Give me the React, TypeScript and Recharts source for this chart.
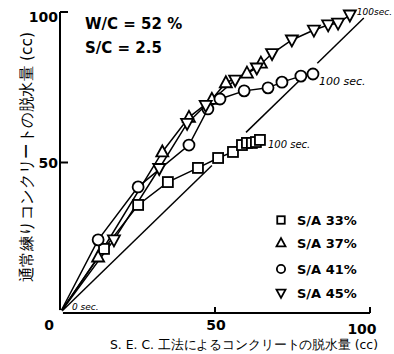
import React from "react";
import { LineChart, Line, XAxis, YAxis } from "recharts";

// points: [S.E.C. 脱水量, 通常練り 脱水量] in cc
const sa33 = [
  [0, 0], [14.2, 21.3], [25.2, 35.9], [34.8, 43.5], [44.5, 48.2], [51, 51.5],
  [55.8, 53.5], [58.7, 55.8], [60.3, 56.5], [61.9, 56.5], [63.2, 56.8], [64.5, 57.5],
];
const sa37 = [
  [0, 0], [12.3, 18.6], [33, 53.5], [41.6, 65], [49, 71], [53.5, 76.5],
  [60.3, 79.7], [64.8, 83],
];
const sa41 = [
  [0, 0], [12.3, 24.3], [25.2, 41.9], [41.6, 55.8], [47.7, 67.8], [51.6, 71.1],
  [59.4, 73.8], [67.1, 74.8], [71.6, 76.7], [77.7, 78.7], [81.6, 79.4],
];
const sa45 = [
  [0, 0], [17.4, 24.3], [32, 48], [41, 63], [47, 69], [56.5, 77.4], [63.5, 81.4],
  [68.4, 86.2], [74.8, 90.7], [81.9, 94], [86.5, 95.7], [89.7, 96.3], [93.5, 99],
];
// the 1:1 line, broken where the end labels sit
const equalSegments = [[0, 49], [60, 77], [83, 98]];

const xTicks = [0, 50, 100];
const yTicks = [0, 50, 100];

const legendItems = [
  { shape: "square", label: "S/A  33%" },
  { shape: "up", label: "S/A  37%" },
  { shape: "circle", label: "S/A  41%" },
  { shape: "down", label: "S/A  45%" },
];

const toRows = (pts: number[][]) => pts.map(([x, y]) => ({ x, y }));
const font = "'DejaVu Sans', sans-serif";

function marker(shape: string, cx: number, cy: number, s = 1, key?: string) {
  const sw = 1.8;
  if (shape === "square")
    return <rect key={key} x={cx - 5 * s} y={cy - 5 * s} width={10 * s} height={10 * s} fill="#fff" stroke="#000" strokeWidth={sw} />;
  if (shape === "circle")
    return <circle key={key} cx={cx} cy={cy} r={5.5 * s} fill="#fff" stroke="#000" strokeWidth={sw} />;
  if (shape === "up")
    return <polygon key={key} points={`${cx},${cy - 6.5 * s} ${cx - 6 * s},${cy + 4.5 * s} ${cx + 6 * s},${cy + 4.5 * s}`} fill="#fff" stroke="#000" strokeWidth={sw} />;
  return <polygon key={key} points={`${cx},${cy + 6.5 * s} ${cx - 6 * s},${cy - 4.5 * s} ${cx + 6 * s},${cy - 4.5 * s}`} fill="#fff" stroke="#000" strokeWidth={sw} />;
}

const dotFor = (shape: string) => (p: any) => {
  if (p.index === 0) return <g key={`o-${shape}`} />;
  return marker(shape, p.cx, p.cy, 1, `${shape}-${p.index}`);
};

const endLabel = (last: number, text: string, dx: number, dy: number, size: number) => (p: any) => {
  if (p.index !== last) return null;
  return (
    <text x={p.x + dx} y={p.y + dy} fontSize={size} fontFamily={font} fontStyle="italic" fill="#000">
      {text}
    </text>
  );
};

const XTick = ({ x, y, payload }: any) => {
  const v = payload.value;
  const dx = v === 0 ? -11 : v === 100 ? -8 : 1;
  const dy = v === 100 ? 21 : 17;
  return (
    <g>
      {v !== 0 && <line x1={x} y1={y} x2={x} y2={y - 6} stroke="#000" strokeWidth={2} />}
      <text x={x + dx} y={y + dy} textAnchor="middle" fontSize={14} fontWeight="bold" fontFamily={font} fill="#000">
        {v}
      </text>
    </g>
  );
};

const YTick = ({ x, y, payload }: any) => {
  const v = payload.value;
  if (v === 0) return <g />;
  return (
    <g>
      <line x1={x} y1={y} x2={x + 8} y2={y} stroke="#000" strokeWidth={2} />
      <text x={x - 2} y={y + (v === 100 ? 10 : 5)} textAnchor="end" fontSize={14} fontWeight="bold" fontFamily={font} fill="#000">
        {v}
      </text>
    </g>
  );
};

export default function App() {
  const series = [
    { data: sa33, shape: "square", label: endLabel(sa33.length - 1, "100 sec.", 8, 8, 10) },
    { data: sa37, shape: "up", label: undefined },
    { data: sa41, shape: "circle", label: endLabel(sa41.length - 1, "100 sec.", 6, 11, 11) },
    { data: sa45, shape: "down", label: endLabel(sa45.length - 1, "100sec.", 7, 0, 9) },
  ];
  return (
    <div style={{ position: "absolute", left: 0, top: 0, width: 394, height: 354, background: "#fff" }}>
      <LineChart width={394} height={354} margin={{ top: 12, right: 24, bottom: 11, left: 20 }}>
        <XAxis
          type="number"
          dataKey="x"
          domain={[0, 100]}
          ticks={xTicks}
          tickSize={0}
          tickMargin={0}
          tickLine={false}
          tick={<XTick />}
          axisLine={{ stroke: "#000", strokeWidth: 2 }}
          height={30}
          allowDuplicatedCategory={false}
        />
        <YAxis
          type="number"
          dataKey="y"
          domain={[0, 100]}
          ticks={yTicks}
          tickSize={0}
          tickMargin={0}
          tickLine={false}
          tick={<YTick />}
          axisLine={{ stroke: "#000", strokeWidth: 2 }}
          width={40}
        />
        {equalSegments.map(([a, b], i) => (
          <Line
            key={`eq-${i}`}
            data={toRows([[a, a], [b, b]])}
            dataKey="y"
            stroke="#000"
            strokeWidth={1.5}
            dot={false}
            isAnimationActive={false}
          />
        ))}
        {series.map((s) => (
          <Line
            key={s.shape}
            data={toRows(s.data)}
            dataKey="y"
            stroke="#000"
            strokeWidth={1.5}
            dot={dotFor(s.shape)}
            label={s.label}
            isAnimationActive={false}
          />
        ))}
        <Line
          data={toRows([[0, 0]])}
          dataKey="y"
          stroke="none"
          dot={false}
          label={endLabel(0, "0 sec.", 12, -3, 9)}
          isAnimationActive={false}
        />
      </LineChart>
      <svg width={394} height={354} style={{ position: "absolute", left: 0, top: 0, pointerEvents: "none" }}>
        <g fontFamily={font} fontWeight="bold" fill="#000">
          <text x={85} y={29} fontSize={15}>W/C = 52 %</text>
          <text x={85} y={53} fontSize={15}>S/C = 2.5</text>
          {legendItems.map((it, i) => {
            const cy = [220, 243, 269, 293][i];
            return (
              <g key={it.label}>
                {marker(it.shape, 281, cy, 0.75)}
                <text x={297} y={cy + 5} fontSize={13}>{it.label}</text>
              </g>
            );
          })}
          <text x={110} y={349} fontSize={12.5} fontWeight="normal" textLength={268} lengthAdjust="spacingAndGlyphs">
            S. E. C. 工法によるコンクリートの脱水量 (cc)
          </text>
          <text
            x={26}
            y={157}
            fontSize={16}
            fontWeight="normal"
            textAnchor="middle"
            transform="rotate(-90 26 157)"
            dominantBaseline="central"
            textLength={250}
            lengthAdjust="spacingAndGlyphs"
          >
            通常練りコンクリートの脱水量 (cc)
          </text>
        </g>
      </svg>
    </div>
  );
}
